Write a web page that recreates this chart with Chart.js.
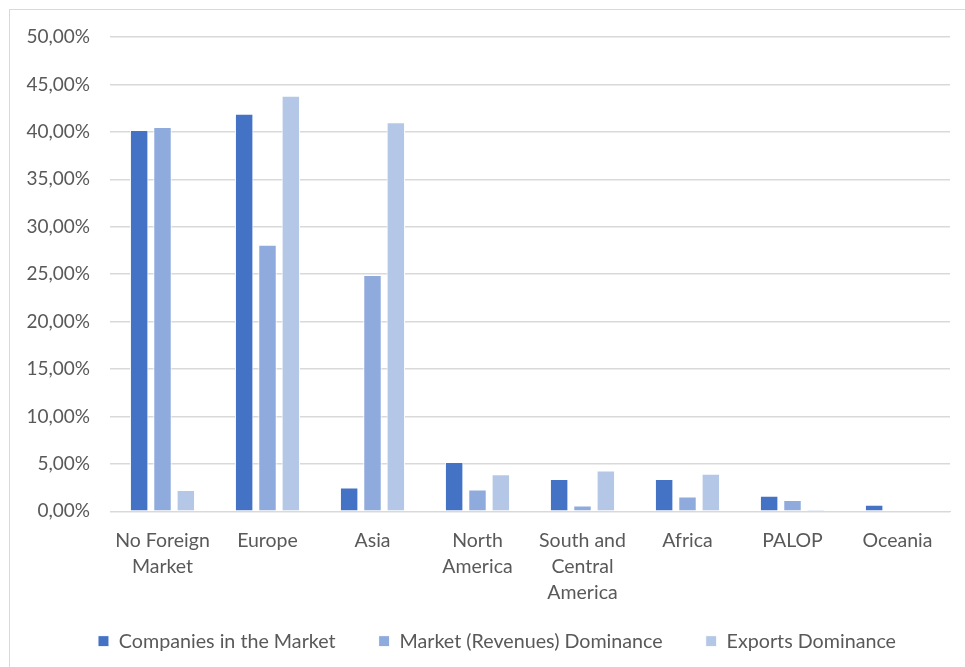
<!DOCTYPE html>
<html>
<head>
<meta charset="utf-8">
<script src="https://cdn.jsdelivr.net/npm/chart.js@4.4.1/dist/chart.umd.min.js"></script>
<style>
  html, body { margin: 0; padding: 0; background: #fff; }
  #frame {
    position: absolute; left: 9px; top: 9px;
    width: 1000px; height: 700px;
    border: 1px solid #d9d9d9;
  }
  #wrap { position: absolute; left: 0; top: 0; width: 965px; height: 667px; }
</style>
</head>
<body>
<div id="frame"></div>
<div id="wrap"><canvas id="mycanvas" width="965" height="667"></canvas></div>
<script>
var regions = [
  ['No Foreign', 'Market'],
  'Europe',
  'Asia',
  ['North', 'America'],
  ['South and', 'Central', 'America'],
  'Africa',
  'PALOP',
  'Oceania'
];
var companies = [40.2, 41.9, 2.5, 5.2, 3.4, 3.4, 1.65, 0.7];
var revenues  = [40.5, 28.1, 24.9, 2.3, 0.6, 1.55, 1.2, 0];
var exportsDom = [2.25, 43.8, 41.0, 3.9, 4.3, 3.95, 0.2, 0];
var yTicks = [0, 5, 10, 15, 20, 25, 30, 35, 40, 45, 50];

var textColor = '#595959';
var fontFam = 'Lato, "Open Sans", sans-serif';

function pct(v) {
  return v.toFixed(2).replace('.', ',') + '%';
}

// let the axis labels spill out of their boxes instead of being clipped
var noLabelClip = {
  id: 'noLabelClip',
  afterLayout: function(chart) {
    chart.scales.x.bottom = chart.height;
    chart.scales.y.left = 0;
  }
};

var ctx = document.getElementById('mycanvas');
var barGraph = new Chart(ctx, {
  type: 'bar',
  data: {
    labels: regions,
    datasets: [
      { label: 'Companies in the Market', data: companies, backgroundColor: '#4472C4' },
      { label: 'Market (Revenues) Dominance', data: revenues, backgroundColor: '#8FAADC' },
      { label: 'Exports Dominance', data: exportsDom, backgroundColor: '#B4C7E7' }
    ]
  },
  plugins: [noLabelClip],
  options: {
    responsive: false,
    animation: false,
    layout: { padding: { top: 37, right: 15, left: 44, bottom: 6 } },
    datasets: {
      bar: {
        categoryPercentage: 0.667,
        barPercentage: 0.79,
        borderColor: '#ffffff',
        borderWidth: 1
      }
    },
    plugins: {
      tooltip: { enabled: false },
      legend: {
        position: 'bottom',
        labels: {
          boxWidth: 11,
          boxHeight: 11,
          padding: 43,
          color: textColor,
          font: { family: fontFam, size: 19.7 }
        }
      }
    },
    scales: {
      x: {
        grid: { display: false },
        border: { color: '#d9d9d9' },
        ticks: {
          color: textColor,
          maxRotation: 0,
          autoSkip: false,
          padding: 8,
          font: { family: fontFam, size: 19.5, lineHeight: 1.35 }
        },
        afterFit: function(scale) { scale.height = 77; }
      },
      y: {
        min: 0,
        max: 50,
        afterBuildTicks: function(scale) {
          scale.ticks = yTicks.map(function(v) { return { value: v }; });
        },
        grid: { color: '#d9d9d9', lineWidth: 1.5, drawTicks: false },
        border: { display: false },
        ticks: {
          color: textColor,
          padding: 20,
          font: { family: fontFam, size: 19 },
          callback: function(v) { return pct(v); }
        },
        afterFit: function(scale) { scale.width = 66; }
      }
    }
  }
});
</script>
</body>
</html>
